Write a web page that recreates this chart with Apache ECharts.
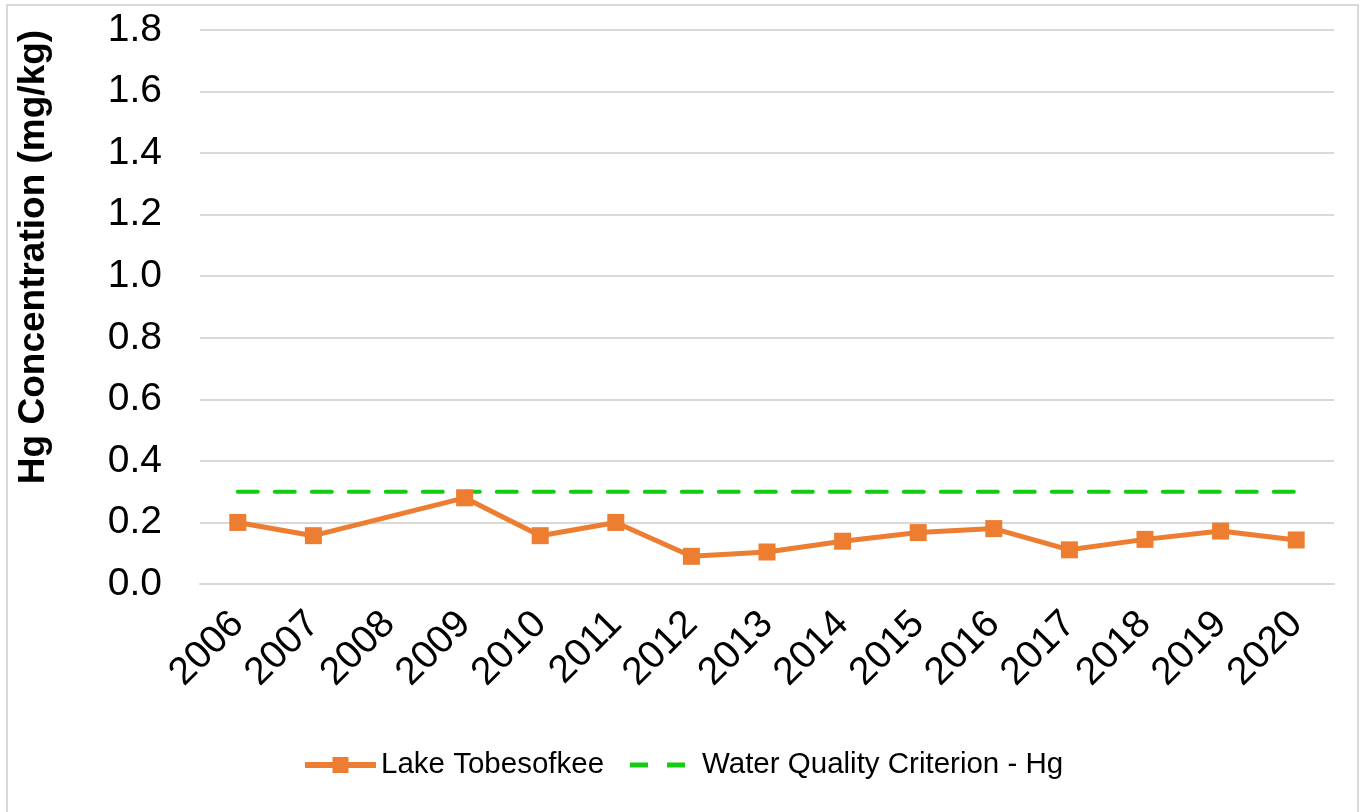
<!DOCTYPE html>
<html>
<head>
<meta charset="utf-8">
<script src="https://cdn.jsdelivr.net/npm/echarts@6/dist/echarts.min.js"></script>
<style>
  html, body { margin: 0; padding: 0; background: #fff; }
  #chart { width: 1365px; height: 812px; }
</style>
</head>
<body>
<div id="chart"></div>
<script>
// 年份
var years = ['2006', '2007', '2008', '2009', '2010', '2011', '2012', '2013',
             '2014', '2015', '2016', '2017', '2018', '2019', '2020'];
// Lake Tobesofkee 汞浓度 (2008 无数据)
var lakeValues = [0.20, 0.157, null, 0.28, 0.157, 0.20, 0.09, 0.104,
                  0.139, 0.167, 0.18, 0.111, 0.145, 0.172, 0.143];
// 水质标准
var criterionValues = [0.3, 0.3, 0.3, 0.3, 0.3, 0.3, 0.3, 0.3,
                       0.3, 0.3, 0.3, 0.3, 0.3, 0.3, 0.3];

var fontName = 'Liberation Sans, Arial, sans-serif';
var myChart = echarts.init(document.getElementById('chart'));
var options = {
    animation: false,
    backgroundColor: '#fff',
    graphic: [{
        type: 'rect',
        shape: { x: 7, y: 5, width: 1351, height: 830 },
        style: { fill: 'none', stroke: '#d9d9d9', lineWidth: 2 },
        silent: true
    }],
    grid: {
        left: 200,
        right: 31,
        top: 30,
        bottom: 228
    },
    legend: [
        {
            left: 297,
            top: 745,
            itemWidth: 71,
            itemHeight: 20,
            itemGap: 8,
            textStyle: { fontFamily: fontName, fontSize: 29.5, color: '#000' },
            data: [{ name: 'Lake Tobesofkee', lineStyle: { width: 6 } }]
        },
        {
            left: 625,
            top: 745,
            itemWidth: 55,
            itemHeight: 5,
            textStyle: { fontFamily: fontName, fontSize: 29.5, color: '#000', padding: [0, 0, 0, 12] },
            data: [{
                name: 'Water Quality Criterion - Hg',
                icon: 'path://M0,0h18v5h-18z M37,0h18v5h-18z'
            }]
        }
    ],
    xAxis: {
        type: 'category',
        data: years,
        boundaryGap: true,
        axisLine: { lineStyle: { color: '#d9d9d9', width: 2 } },
        axisTick: { show: false },
        axisLabel: {
            rotate: 45,
            margin: 34,
            fontSize: 39,
            fontFamily: fontName,
            color: '#000',
            interval: 0
        }
    },
    yAxis: {
        type: 'value',
        min: 0,
        max: 1.8,
        interval: 0.2,
        name: 'Hg Concentration (mg/kg)',
        nameLocation: 'middle',
        nameGap: 148,
        nameTextStyle: {
            fontSize: 37,
            fontWeight: 'bold',
            fontFamily: fontName,
            color: '#000',
            padding: [0, 0, 0, 100]
        },
        axisLine: { show: false },
        axisTick: { show: false },
        splitLine: { lineStyle: { color: '#d9d9d9', width: 2 } },
        axisLabel: {
            margin: 38,
            fontSize: 39,
            fontFamily: fontName,
            color: '#000',
            formatter: function (v) { return v.toFixed(1); }
        }
    },
    series: [
        {
            name: 'Lake Tobesofkee',
            type: 'line',
            data: lakeValues,
            connectNulls: true,
            symbol: 'rect',
            symbolSize: 17,
            itemStyle: { color: '#ED7D31' },
            lineStyle: { color: '#ED7D31', width: 5 },
            z: 3
        },
        {
            name: 'Water Quality Criterion - Hg',
            type: 'line',
            data: criterionValues,
            symbol: 'none',
            itemStyle: { color: '#12CC12' },
            lineStyle: { color: '#12CC12', width: 4, type: [20, 17], cap: 'round' },
            z: 2
        }
    ]
};
myChart.setOption(options);
</script>
</body>
</html>
